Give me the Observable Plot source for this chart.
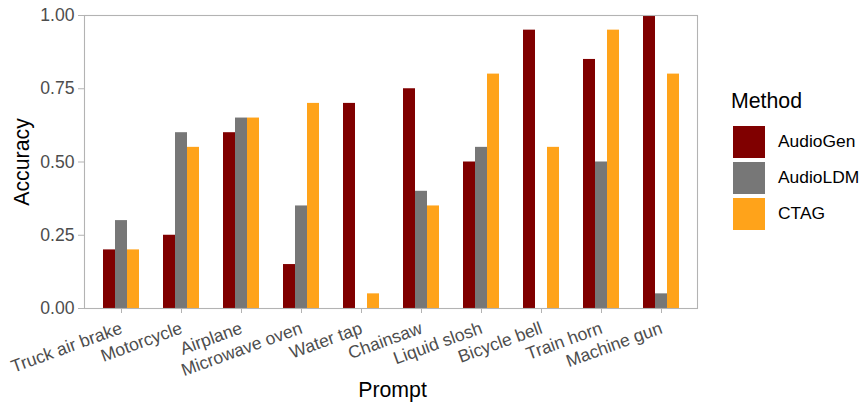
<!DOCTYPE html>
<html>
<head>
<meta charset="utf-8">
<script src="https://cdn.jsdelivr.net/npm/d3@7"></script>
<script src="https://cdn.jsdelivr.net/npm/@observablehq/plot@0.6"></script>
<style>
  body { margin: 0; background: #fff; font-family: "Liberation Sans", Arial, sans-serif; }
  #wrap { position: relative; width: 862px; height: 404px; overflow: hidden; }
  .title { position: absolute; color: #000; font-size: 21.3px; white-space: nowrap; }
  .legend-key { position: absolute; width: 32px; height: 32px; }
  .legend-label { position: absolute; font-size: 17.4px; color: #000; white-space: nowrap; line-height: 20px; }
</style>
</head>
<body>
<div id="wrap"></div>
<script>
const prompts = ["Truck air brake", "Motorcycle", "Airplane", "Microwave oven", "Water tap",
                 "Chainsaw", "Liquid slosh", "Bicycle bell", "Train horn", "Machine gun"];
const methods = ["AudioGen", "AudioLDM", "CTAG"];
const audioGen = [0.20, 0.25, 0.60, 0.15, 0.70, 0.75, 0.50, 0.95, 0.85, 1.00];
const audioLDM = [0.30, 0.60, 0.65, 0.35, 0.00, 0.40, 0.55, 0.00, 0.50, 0.05];
const ctag     = [0.20, 0.55, 0.65, 0.70, 0.05, 0.35, 0.80, 0.55, 0.95, 0.80];
const yTicks = [0, 0.25, 0.5, 0.75, 1];
const methodColors = ["#800000", "#777777", "#ffa31a"];

const seriesValues = [audioGen, audioLDM, ctag];
const rows = methods.map((m, i) => prompts.map((p, j) => ({prompt: p, method: m, value: seriesValues[i][j]})));

const W = 862, H = 404;
const mL = 84, mR = 165, mT = 15, mB = 96;
const bw = 12;

const chart = Plot.plot({
  width: W,
  height: H,
  marginLeft: mL,
  marginRight: mR,
  marginTop: mT,
  marginBottom: mB,
  style: {fontFamily: "'Liberation Sans', Arial, sans-serif", background: "#fff"},
  x: {type: "band", domain: prompts, paddingInner: 0.4, paddingOuter: 0.3, axis: null},
  y: {domain: [0, 1], axis: null},
  color: {domain: methods, range: methodColors},
  marks: [
    Plot.barY(rows[0], {x: "prompt", y: "value", fill: "method", insetLeft: 0, insetRight: 2 * bw}),
    Plot.barY(rows[1], {x: "prompt", y: "value", fill: "method", insetLeft: bw, insetRight: bw}),
    Plot.barY(rows[2], {x: "prompt", y: "value", fill: "method", insetLeft: 2 * bw, insetRight: 0}),
    Plot.frame({stroke: "#b3b3b3", strokeWidth: 1.1}),
    Plot.axisY({ticks: yTicks, tickFormat: d3.format(".2f"), tickSize: 6, tickPadding: 4,
                fontSize: 17.6, stroke: "#b3b3b3", fill: "#4d4d4d", label: null}),
    Plot.axisX({tickSize: 5, tickPadding: 14, tickRotate: -20, fontSize: 17.6,
                stroke: "#b3b3b3", fill: "#4d4d4d", label: null})
  ]
});

const wrap = document.getElementById("wrap");
wrap.appendChild(chart);

function addDiv(cls, text, css) {
  const d = document.createElement("div");
  d.className = cls;
  if (text) d.textContent = text;
  Object.assign(d.style, css);
  wrap.appendChild(d);
  return d;
}

// axis titles
addDiv("title", "Prompt", {left: (mL + (W - mR)) / 2 + 2 + "px", top: "378px", transform: "translateX(-50%)"});
addDiv("title", "Accuracy", {left: "22px", top: ((mT + (H - mB)) / 2) + "px", transform: "translate(-50%,-50%) rotate(-90deg)"});

// legend
addDiv("title", "Method", {left: "731px", top: "89px"});
methods.forEach((m, i) => {
  const top = 126 + i * 36;
  addDiv("legend-key", "", {left: "733px", top: top + "px", background: methodColors[i]});
  addDiv("legend-label", m, {left: "778px", top: (top + 5) + "px"});
});
</script>
</body>
</html>
